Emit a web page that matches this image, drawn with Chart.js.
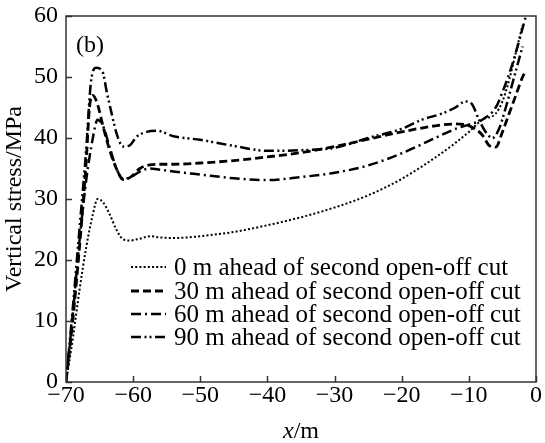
<!DOCTYPE html>
<html>
<head>
<meta charset="utf-8">
<script src="https://cdn.jsdelivr.net/npm/chart.js@4.4.0/dist/chart.umd.min.js"></script>
<style>
  html, body { margin: 0; padding: 0; background: #fff; }
  #wrap { width: 545px; height: 443px; }
</style>
</head>
<body>
<div id="wrap"><canvas id="stressChart" width="545" height="443"></canvas></div>
<script>
// series data (x in m, vertical stress in MPa)
const seriesNames = [
    "0 m ahead of second open-off cut",
    "30 m ahead of second open-off cut",
    "60 m ahead of second open-off cut",
    "90 m ahead of second open-off cut"
];

const x0 = [-70, -69, -68, -67, -66, -65.3, -64.5, -63.5, -62.5, -61.5, -60.5, -59, -57.5, -56, -54, -52, -50, -45, -40, -35, -30, -25, -20, -15, -12, -10, -8, -6, -5, -4, -3, -2];
const y0 = [0, 7, 15, 22, 27.5, 30, 29.5, 27.5, 25, 23.4, 23.2, 23.5, 23.9, 23.7, 23.6, 23.7, 23.9, 24.6, 25.7, 27, 28.6, 30.6, 33.3, 36.8, 39.2, 41, 43, 44, 46, 49.5, 54, 58.5];

const x30 = [-70, -69, -68, -67, -66.5, -66, -65.3, -64.5, -63.5, -62.5, -61.5, -60.5, -59, -57.5, -56, -54, -50, -45, -40, -35, -30, -25, -20, -15, -12, -10, -8, -7, -6, -5, -4, -3, -2, -1.5];
const y30 = [0, 10, 22, 36, 45, 47, 45.5, 42, 38, 35, 33.2, 33.5, 35, 35.6, 35.7, 35.7, 35.9, 36.3, 36.9, 37.6, 38.6, 39.8, 41, 42, 42.3, 42, 40.5, 38.8, 38.5, 41, 44, 47, 50, 51];

const x60 = [-70, -69, -68, -67, -66, -65.3, -64.5, -63.5, -62.5, -61.5, -60.5, -59, -57.5, -56, -54, -50, -45, -40, -35, -30, -25, -20, -15, -12, -10, -8, -6, -5, -4, -3, -2, -1.5];
const y60 = [0, 11, 23, 33, 40, 43, 42, 38.5, 35, 33.3, 33.5, 34.5, 35, 34.8, 34.5, 34, 33.4, 33.1, 33.6, 34.3, 35.5, 37.5, 40, 41.5, 42.2, 43, 45, 47.5, 50.5, 54, 58, 60];

const x90 = [-70, -69, -68, -67, -66.3, -65.5, -64.6, -63.9, -63.2, -62.4, -61.5, -60.5, -59.5, -58, -56.5, -54, -50, -45, -40, -35, -30, -25, -20, -17, -14, -12, -10.5, -9.5, -8.5, -7.5, -6.5, -5.5, -4.5, -3.5, -2.5, -2];
const y90 = [0, 12, 25, 38, 49, 51.5, 51, 47.4, 44, 40.5, 38.6, 38.8, 40.2, 41, 41.2, 40.3, 39.7, 38.7, 37.9, 38, 38.4, 40, 41.5, 43, 44, 45, 46, 45.5, 43, 41, 40, 41.5, 45, 49, 53, 55];

const xTicks = [-70, -60, -50, -40, -30, -20, -10, 0];
const yTicks = [0, 10, 20, 30, 40, 50, 60];

const lineDashes = [[2, 2.2], [8, 4], [10, 4, 2, 4], [10, 3.5, 2, 3, 2, 3.5]];
const lineWidths = [2, 2.8, 2.5, 2.5];

const FONT = "'Liberation Serif', 'Times New Roman', serif";
const FSIZE = 24;

function toPoints(xs, ys) {
    return xs.map((x, i) => ({ x: x, y: ys[i] }));
}

const allX = [x0, x30, x60, x90];
const allY = [y0, y30, y60, y90];

const datasets = seriesNames.map((name, i) => ({
    label: name,
    data: toPoints(allX[i], allY[i]),
    showLine: true,
    borderColor: '#000',
    backgroundColor: '#000',
    borderWidth: lineWidths[i],
    borderDash: lineDashes[i],
    pointRadius: 0,
    tension: 0.35,
    cubicInterpolationMode: 'monotone',
    fill: false
}));

// frame, inward ticks, "(b)" tag, axis titles and the in-plot legend
const decorations = {
    id: 'decorations',
    afterDraw(chart) {
        const ctx = chart.ctx;
        const area = chart.chartArea;
        const xs = chart.scales.x;
        const ys = chart.scales.y;
        ctx.save();
        ctx.strokeStyle = '#333';
        ctx.lineWidth = 1.5;
        ctx.setLineDash([]);
        ctx.strokeRect(area.left, area.top, area.right - area.left, area.bottom - area.top);

        ctx.beginPath();
        xTicks.forEach(v => {
            const px = Math.round(xs.getPixelForValue(v)) + 0.5;
            ctx.moveTo(px, area.bottom);
            ctx.lineTo(px, area.bottom - 6);
        });
        yTicks.forEach(v => {
            const py = Math.round(ys.getPixelForValue(v)) + 0.5;
            ctx.moveTo(area.left, py);
            ctx.lineTo(area.left + 6, py);
        });
        ctx.stroke();

        ctx.fillStyle = '#000';
        ctx.textBaseline = 'middle';
        ctx.textAlign = 'left';
        ctx.font = FSIZE + 'px ' + FONT;
        ctx.fillText('(b)', area.left + 10, area.top + 30);

        // y axis title
        ctx.save();
        ctx.translate(15, (area.top + area.bottom) / 2);
        ctx.rotate(-Math.PI / 2);
        ctx.textAlign = 'center';
        ctx.fillText('Vertical stress/MPa', 0, 0);
        ctx.restore();

        // x axis title: italic x, upright /m
        const cx = (area.left + area.right) / 2;
        ctx.font = 'italic ' + FSIZE + 'px ' + FONT;
        const wx = ctx.measureText('x').width;
        ctx.font = FSIZE + 'px ' + FONT;
        const wm = ctx.measureText('/m').width;
        const sx = cx - (wx + wm) / 2;
        ctx.font = 'italic ' + FSIZE + 'px ' + FONT;
        ctx.fillText('x', sx, 432);
        ctx.font = FSIZE + 'px ' + FONT;
        ctx.fillText('/m', sx + wx, 432);

        // legend
        const lx0 = 131, lx1 = 166, tx = 174;
        const rows = [267, 291, 314, 337];
        ctx.font = '25px ' + FONT;
        chart.data.datasets.forEach((ds, i) => {
            ctx.strokeStyle = '#000';
            ctx.lineWidth = ds.borderWidth;
            ctx.setLineDash(ds.borderDash);
            ctx.beginPath();
            ctx.moveTo(lx0, rows[i]);
            ctx.lineTo(lx1, rows[i]);
            ctx.stroke();
            ctx.setLineDash([]);
            ctx.fillText(ds.label, tx, rows[i] + 1);
        });
        ctx.restore();
    }
};

const ctx = document.getElementById('stressChart').getContext('2d');
const stressChart = new Chart(ctx, {
    type: 'scatter',
    data: { datasets: datasets },
    options: {
        responsive: false,
        animation: false,
        devicePixelRatio: 1,
        layout: { padding: { top: 16, right: 9, left: 0, bottom: 0 } },
        plugins: {
            legend: { display: false },
            tooltip: { enabled: false }
        },
        scales: {
            x: {
                type: 'linear',
                min: -70,
                max: 0,
                afterBuildTicks: axis => { axis.ticks = xTicks.map(v => ({ value: v })); },
                afterFit: axis => { axis.height = 61; },
                grid: { display: false, drawTicks: false },
                border: { display: false },
                ticks: {
                    color: '#000',
                    padding: 2,
                    maxRotation: 0,
                    font: { family: FONT, size: FSIZE, lineHeight: 1 },
                    callback: v => String(v).replace('-', '\u2212')
                }
            },
            y: {
                min: 0,
                max: 60,
                afterBuildTicks: axis => { axis.ticks = yTicks.map(v => ({ value: v })); },
                afterFit: axis => { axis.width = 66; axis.paddingTop = 0; axis.paddingBottom = 0; },
                grid: { display: false, drawTicks: false },
                border: { display: false },
                ticks: {
                    color: '#000',
                    padding: 8,
                    font: { family: FONT, size: FSIZE, lineHeight: 1 }
                }
            }
        }
    },
    plugins: [decorations]
});
</script>
</body>
</html>
